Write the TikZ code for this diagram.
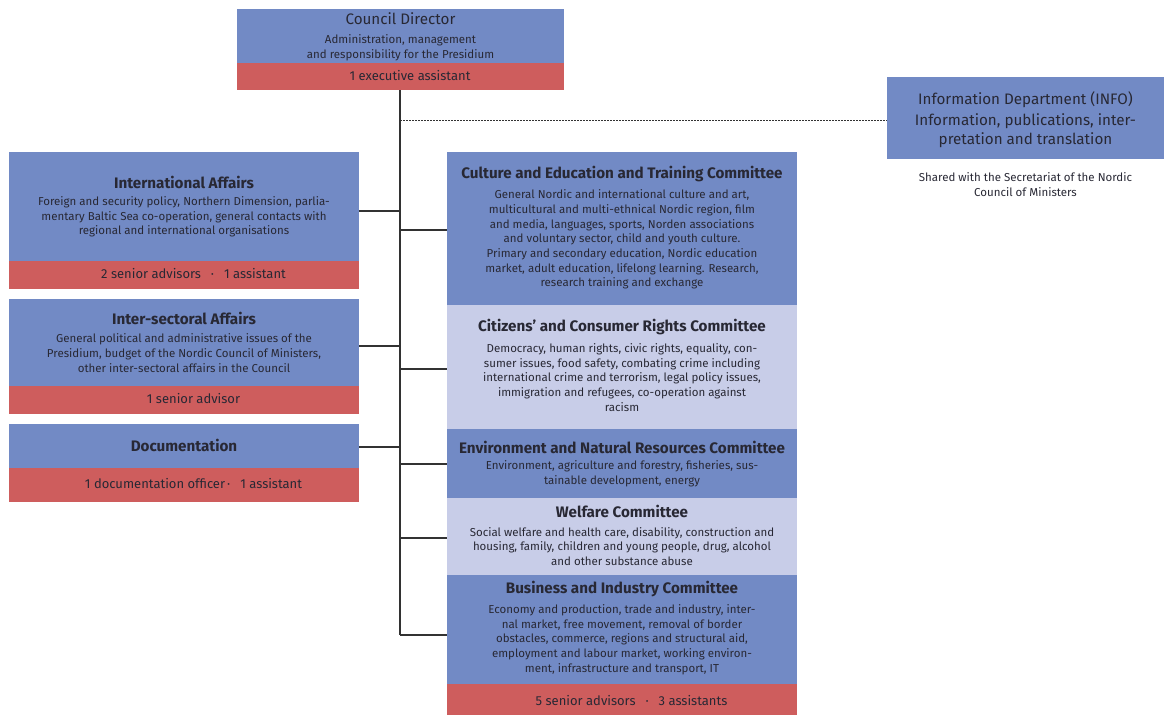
\documentclass[tikz,border=0pt]{standalone}
\usepackage{fontspec}
\setmainfont{Fira Sans}
\definecolor{cblue}{RGB}{114,138,197}
\definecolor{clight}{RGB}{200,205,232}
\definecolor{cred}{RGB}{206,93,93}
\definecolor{ctext}{RGB}{40,40,52}
\definecolor{cline}{RGB}{50,50,50}
\begin{document}
\begin{tikzpicture}[x=1pt,y=-1pt,
  boxb/.style={fill=cblue,draw=none,inner sep=0,anchor=north west},
  boxl/.style={fill=clight,draw=none,inner sep=0,anchor=north west},
  boxr/.style={fill=cred,draw=none,inner sep=0,anchor=north west},
  ttl/.style={font=\fontsize{15.2}{17}\selectfont\bfseries,text=ctext,inner sep=0},
  ttlr/.style={font=\fontsize{15.2}{17}\selectfont,text=ctext,inner sep=0},
  bodyt/.style={font=\fontsize{11.5}{14.7}\selectfont,align=center,text=ctext,inner sep=0},
  redt/.style={font=\fontsize{13}{15}\selectfont,text=ctext,inner sep=0},
  conn/.style={draw=cline,line width=1.1pt},
  dconn/.style={draw=cline,line width=0.9pt,dash pattern=on 1.5pt off 1.5pt}]
\useasboundingbox (0,0) rectangle (1164,715);

% Council Director
\node[boxb,minimum width=327pt,minimum height=54pt] (cd) at (237,9) {};
\node[boxr,minimum width=327pt,minimum height=27pt] (cdr) at (237,63) {};
\node[ttlr] (cdt) at (400.5,19) {Council Director};
\node[bodyt] (cdb) at (400.5,48) {Administration, management\\and responsibility for the Presidium};
\node[redt] (cdrt) at (410,76) {1 executive assistant};

% Information department
\node[boxb,minimum width=277pt,minimum height=82pt] (info) at (887,77) {};
\node[ttlr,align=center,font=\fontsize{15.2}{18.6}\selectfont] (infot) at (1025.5,119.5) {Information Department (INFO)\\[3pt]Information, publications, inter-\\pretation and translation};
\node[bodyt] (infos) at (1025.5,184.5) {Shared with the Secretariat of the Nordic\\Council of Ministers};

% Left column
\node[boxb,minimum width=350pt,minimum height=109pt] (ia) at (9,152) {};
\node[boxr,minimum width=350pt,minimum height=28pt] (iar) at (9,261) {};
\node[ttl] (iat) at (184,182) {International Affairs};
\node[bodyt] (iab) at (184,217) {Foreign and security policy, Northern Dimension, parlia-\\mentary Baltic Sea co-operation, general contacts with\\regional and international organisations};
\node[redt] (iart) at (193.5,274) {2 senior advisors\enspace\ \textperiodcentered\enspace\ 1 assistant};

\node[boxb,minimum width=350pt,minimum height=87pt] (is) at (9,299) {};
\node[boxr,minimum width=350pt,minimum height=28pt] (isr) at (9,386) {};
\node[ttl] (ist) at (184,318) {Inter-sectoral Affairs};
\node[bodyt] (isb) at (184,353) {General political and administrative issues of the\\Presidium, budget of the Nordic Council of Ministers,\\other inter-sectoral affairs in the Council};
\node[redt] (isrt) at (193.5,399) {1 senior advisor};

\node[boxb,minimum width=350pt,minimum height=44pt] (doc) at (9,424) {};
\node[boxr,minimum width=350pt,minimum height=34pt] (docr) at (9,468) {};
\node[ttl] (doct) at (184,445) {Documentation};
\node[redt] (docrt) at (193.5,484) {1 documentation officer\,\textperiodcentered\enspace\ 1 assistant};

% Right column
\node[boxb,minimum width=350pt,minimum height=153pt] (cul) at (447,152) {};
\node[ttl] (cult) at (622,174) {Culture and Education and Training Committee};
\node[bodyt] (culb) at (622,239.5) {General Nordic and international culture and art,\\multicultural and multi-ethnical Nordic region, film\\and media, languages, sports, Norden associations\\and voluntary sector, child and youth culture.\\Primary and secondary education, Nordic education\\market, adult education, lifelong learning. Research,\\research training and exchange};

\node[boxl,minimum width=350pt,minimum height=124pt] (cit) at (447,305) {};
\node[ttl] (citt) at (622,327) {Citizens’ and Consumer Rights Committee};
\node[bodyt] (citb) at (622,377.5) {Democracy, human rights, civic rights, equality, con-\\sumer issues, food safety, combating crime including\\international crime and terrorism, legal policy issues,\\immigration and refugees, co-operation against\\racism};

\node[boxb,minimum width=350pt,minimum height=69pt] (env) at (447,429) {};
\node[ttl] (envt) at (622,447) {Environment and Natural Resources Committee};
\node[bodyt] (envb) at (622,474) {Environment, agriculture and forestry, fisheries, sus-\\tainable development, energy};

\node[boxl,minimum width=350pt,minimum height=77pt] (wel) at (447,498) {};
\node[ttl] (welt) at (622,511) {Welfare Committee};
\node[bodyt] (welb) at (622,546.5) {Social welfare and health care, disability, construction and\\housing, family, children and young people, drug, alcohol\\and other substance abuse};

\node[boxb,minimum width=350pt,minimum height=109pt] (bus) at (447,575) {};
\node[boxr,minimum width=350pt,minimum height=31pt] (busr) at (447,684) {};
\node[ttl] (bust) at (622,589) {Business and Industry Committee};
\node[bodyt] (busb) at (622,639.5) {Economy and production, trade and industry, inter-\\nal market, free movement, removal of border\\obstacles, commerce, regions and structural aid,\\employment and labour market, working environ-\\ment, infrastructure and transport, IT};
\node[redt] (busrt) at (631.5,700) {5 senior advisors\enspace\ \textperiodcentered\enspace\ 3 assistants};

% connectors
\coordinate (tend) at (400,635);
\coordinate (dj) at (400,120);
\coordinate (j1) at (400,211);
\coordinate (j2) at (400,346);
\coordinate (j3) at (400,447);
\coordinate (k1) at (400,230);
\coordinate (k2) at (400,369);
\coordinate (k3) at (400,464);
\coordinate (k4) at (400,538);
\draw[conn] (cdr.south -| tend) -- (tend);
\draw[dconn] (dj) -- (info.west |- dj);
\draw[conn] (ia.east |- j1) -- (j1);
\draw[conn] (is.east |- j2) -- (j2);
\draw[conn] (doc.east |- j3) -- (j3);
\draw[conn] (k1) -- (cul.west |- k1);
\draw[conn] (k2) -- (cit.west |- k2);
\draw[conn] (k3) -- (env.west |- k3);
\draw[conn] (k4) -- (wel.west |- k4);
\draw[conn] (tend) -- (bus.west |- tend);
\end{tikzpicture}
\end{document}
